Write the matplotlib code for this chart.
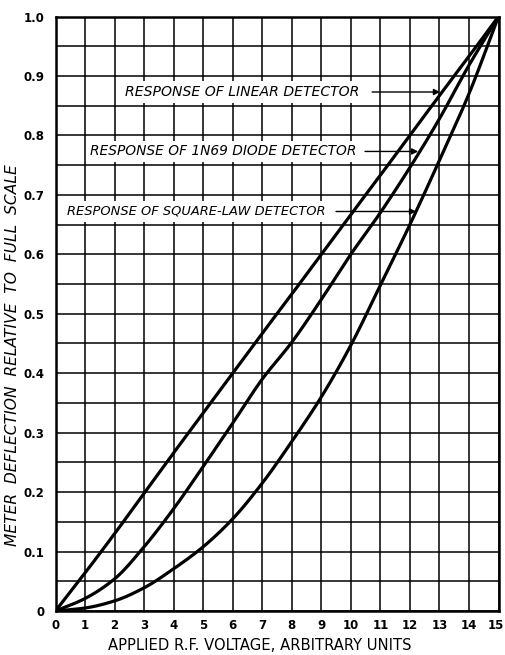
import numpy as np
import matplotlib
matplotlib.use("Agg")
import matplotlib.pyplot as plt
from matplotlib.ticker import MultipleLocator, FixedLocator
from matplotlib.transforms import ScaledTranslation

# Applied r.f. voltage (arbitrary units)
voltage = [0, 1, 2, 3, 4, 5, 6, 7, 8, 9, 10, 11, 12, 13, 14, 15]

# Meter deflection relative to full scale
linear_resp = [0, 0.064, 0.130, 0.198, 0.266, 0.333, 0.400, 0.467, 0.533,
               0.600, 0.667, 0.733, 0.800, 0.867, 0.933, 1.0]
diode_resp = [0, 0.021, 0.054, 0.108, 0.172, 0.243, 0.316, 0.390, 0.452,
              0.524, 0.600, 0.670, 0.746, 0.828, 0.918, 1.0]
square_resp = [0, 0.005, 0.017, 0.039, 0.071, 0.108, 0.155, 0.215, 0.285,
               0.360, 0.447, 0.548, 0.650, 0.758, 0.870, 1.0]

x_ticks = list(range(0, 16))
y_ticks = [0, 0.1, 0.2, 0.3, 0.4, 0.5, 0.6, 0.7, 0.8, 0.9, 1.0]
y_tick_labels = ["0", "0.1", "0.2", "0.3", "0.4", "0.5", "0.6", "0.7", "0.8", "0.9", "1.0"]

labels = ["RESPONSE OF LINEAR DETECTOR",
          "RESPONSE OF 1N69 DIODE DETECTOR",
          "RESPONSE OF SQUARE-LAW DETECTOR"]


def pchip(x, y, xs):
    """Shape-preserving cubic through the given points."""
    x = np.asarray(x, float)
    y = np.asarray(y, float)
    h = np.diff(x)
    d = np.diff(y) / h
    m = np.zeros_like(y)
    for k in range(1, len(x) - 1):
        if d[k - 1] * d[k] > 0:
            w1 = 2 * h[k] + h[k - 1]
            w2 = h[k] + 2 * h[k - 1]
            m[k] = (w1 + w2) / (w1 / d[k - 1] + w2 / d[k])
    m[0] = d[0]
    m[-1] = d[-1]
    idx = np.clip(np.searchsorted(x, xs) - 1, 0, len(x) - 2)
    t = (xs - x[idx]) / h[idx]
    h00 = 2 * t**3 - 3 * t**2 + 1
    h10 = t**3 - 2 * t**2 + t
    h01 = -2 * t**3 + 3 * t**2
    h11 = t**3 - t**2
    return (h00 * y[idx] + h10 * h[idx] * m[idx]
            + h01 * y[idx + 1] + h11 * h[idx] * m[idx + 1])


W, H = 505, 655
fig = plt.figure(figsize=(W / 100, H / 100), dpi=100)
ax = fig.add_axes([55.5 / W, 44 / H, 443 / W, 594.5 / H])

ax.set_xlim(0, 15)
ax.set_ylim(0, 1.0)

ax.xaxis.set_major_locator(FixedLocator(x_ticks))
ax.set_xticklabels([str(v) for v in x_ticks])
ax.yaxis.set_major_locator(FixedLocator(y_ticks))
ax.set_yticklabels(y_tick_labels)
ax.yaxis.set_minor_locator(MultipleLocator(0.05))
ax.tick_params(which="both", length=0)
ax.tick_params(axis="x", pad=6, labelsize=8.5)
ax.tick_params(axis="y", pad=8, labelsize=8.5)
for lab in ax.get_xticklabels() + ax.get_yticklabels():
    lab.set_fontweight("bold")
# keep the last x label inside the figure edge
last = ax.get_xticklabels()[-1]
last.set_transform(last.get_transform() + ScaledTranslation(-3 / 100, 0, fig.dpi_scale_trans))

ax.grid(True, which="both", color="black", lw=1.1, zorder=1)
ax.set_axisbelow(True)
for s in ax.spines.values():
    s.set_linewidth(1.8)

xs = np.linspace(0, 15, 400)
for series in (linear_resp, diode_resp, square_resp):
    ax.plot(xs, pchip(voltage, series, xs), color="black", lw=2.3,
            solid_capstyle="round", zorder=4)

# Curve labels with arrows pointing to each curve
label_pos = [(2.35, 0.873), (1.17, 0.773), (0.39, 0.672)]
label_size = [10.1, 9.95, 9.4]
arrow_tail = [10.72, 10.48, 9.5]
arrow_tip = [13.02, 12.28, 12.21]
for text, (tx, ty), fs, x0, x1 in zip(labels, label_pos, label_size, arrow_tail, arrow_tip):
    ax.text(tx, ty, text, fontsize=fs, style="italic", ha="left", va="center",
            zorder=5, bbox=dict(facecolor="white", edgecolor="none", pad=2.5))
    ax.annotate("", xy=(x1, ty), xytext=(x0, ty), zorder=5,
                arrowprops=dict(arrowstyle="-|>", color="black", lw=1.0,
                                mutation_scale=9, shrinkA=0, shrinkB=0))

fig.text(260 / W, 1 - 645 / H, "APPLIED R.F. VOLTAGE, ARBITRARY UNITS",
         fontsize=10.6, ha="center", va="center")
fig.text(13 / W, 1 - 355 / H, "METER  DEFLECTION  RELATIVE  TO  FULL  SCALE",
         fontsize=11.2, style="italic", rotation=90, ha="center", va="center")

fig.savefig("out.png", dpi=100)
